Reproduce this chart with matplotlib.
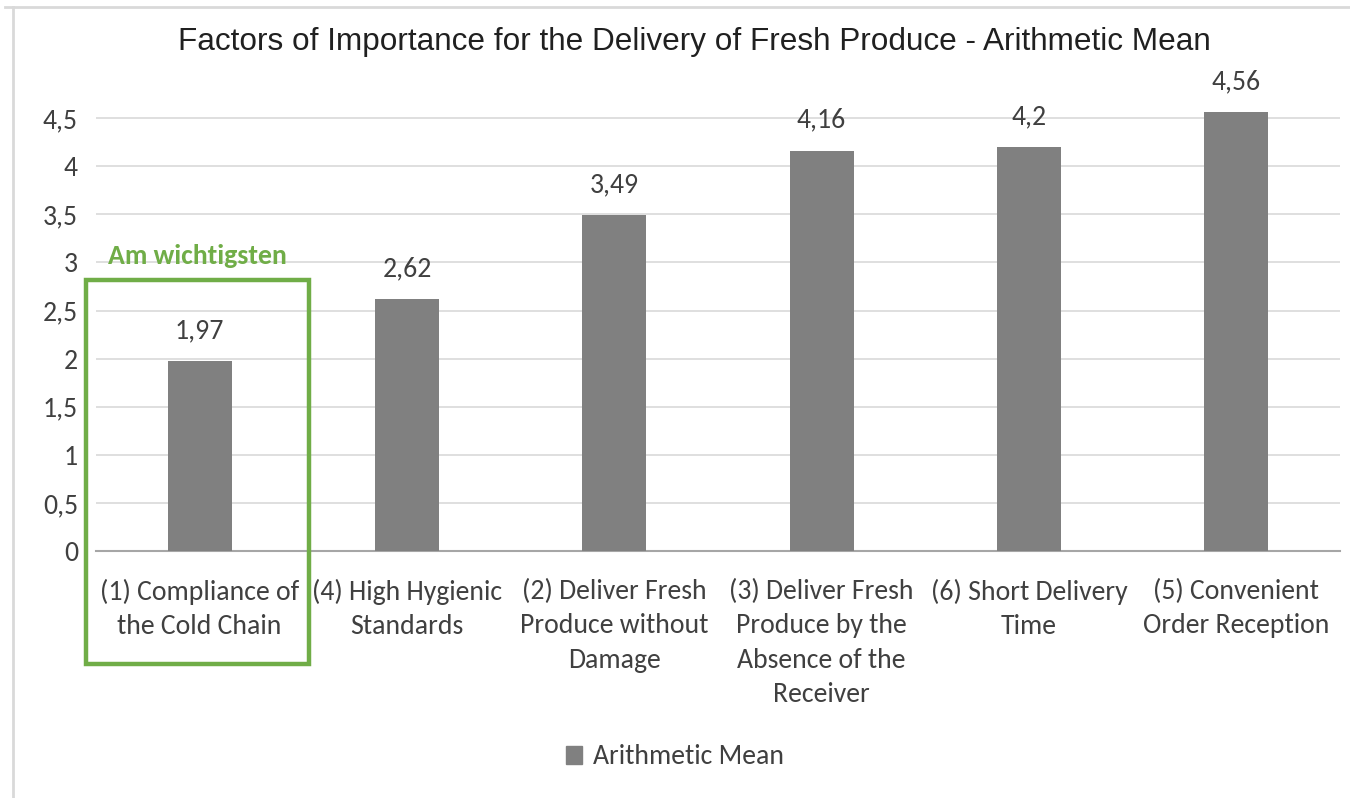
import matplotlib
matplotlib.use("Agg")
import matplotlib.pyplot as plt
from matplotlib.patches import Rectangle
from matplotlib.lines import Line2D

categories = ["(1) Compliance of\nthe Cold Chain", "(4) High Hygienic\nStandards",
              "(2) Deliver Fresh\nProduce without\nDamage",
              "(3) Deliver Fresh\nProduce by the\nAbsence of the\nReceiver",
              "(6) Short Delivery\nTime", "(5) Convenient\nOrder Reception"]
values = [1.97, 2.62, 3.49, 4.16, 4.2, 4.56]
value_labels = ["1,97", "2,62", "3,49", "4,16", "4,2", "4,56"]
yticks = [0, 0.5, 1, 1.5, 2, 2.5, 3, 3.5, 4, 4.5]
ytick_labels = ["0", "0,5", "1", "1,5", "2", "2,5", "3", "3,5", "4", "4,5"]
title = "Factors of Importance for the Delivery of Fresh Produce - Arithmetic Mean"
series_name = "Arithmetic Mean"
highlight = "Am wichtigsten"

W, H = 1350, 798
fig = plt.figure(figsize=(W / 100, H / 100), dpi=100)
fig.patch.set_facecolor("white")

body = ["Carlito", "Lato", "DejaVu Sans"]
title_font = ["Liberation Sans", "DejaVu Sans"]

# chart frame lines
fig.add_artist(Line2D([13 / W, 13 / W], [0, 1 - 7 / H], color="#d9d9d9", lw=2, transform=fig.transFigure))
fig.add_artist(Line2D([5 / W, 1], [1 - 7 / H, 1 - 7 / H], color="#d9d9d9", lw=2, transform=fig.transFigure))

ax = fig.add_axes([96 / W, 1 - 551 / H, (1340 - 96) / W, (551 - 108.5) / H])
x = list(range(len(categories)))
ax.bar(x, values, width=0.31, color="#808080", zorder=3)
ax.set_xlim(-0.5, len(categories) - 0.5)
ax.set_ylim(0, 4.6)
ax.set_yticks(yticks)
ax.set_yticklabels(ytick_labels, fontsize=20, family=body, color="#404040")
ax.set_xticks(x)
ax.set_xticklabels(categories, fontsize=20, family=body, color="#404040", linespacing=1.47)
ax.tick_params(axis="both", length=0)
ax.tick_params(axis="y", pad=13)
ax.tick_params(axis="x", pad=20)
for s in ["top", "right", "left"]:
    ax.spines[s].set_visible(False)
ax.spines["bottom"].set_color("#a6a6a6")
ax.spines["bottom"].set_linewidth(1.5)
ax.grid(axis="y", color="#d9d9d9", lw=1.2, zorder=0)
ax.set_axisbelow(True)

for xi, v, lab in zip(x, values, value_labels):
    ax.annotate(lab, (xi, v), xytext=(0, 13), textcoords="offset points",
                ha="center", va="bottom", fontsize=20, family=body, color="#404040")

fig.text(694 / W, 1 - 42 / H, title, ha="center", va="center", fontsize=22.7,
         family=title_font, color="#202020")

# highlight box
ax.add_patch(Rectangle((-0.548, -1.175), 0.529 + 0.548, 2.82 + 1.175, fill=False,
                       edgecolor="#70ad47", lw=3.2, clip_on=False, zorder=5))
ax.text(-0.01, 3.07, highlight, ha="center", va="center", fontsize=20, fontweight="bold",
        family=body, color="#70ad47")

handle = Rectangle((0, 0), 1, 1, color="#808080")
fig.legend([handle], [series_name], loc="center", bbox_to_anchor=(0.5, 1 - 757 / H),
           frameon=False, prop={"family": body, "size": 20}, handlelength=0.6,
           handleheight=0.6, handletextpad=0.4, labelcolor="#404040")

fig.savefig("out.png", dpi=100, facecolor="white")
